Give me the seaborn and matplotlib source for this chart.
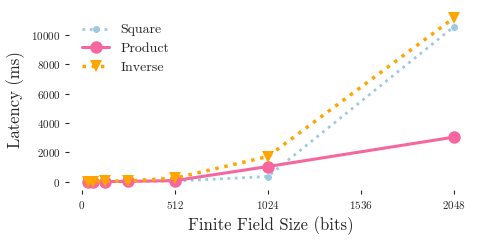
import matplotlib
matplotlib.use('Agg')

import seaborn as sns
import matplotlib.pyplot as plt
import pandas as pd

# field sizes (bits) and latencies (ms)
field_sizes = [32, 64, 128, 256, 512, 1024, 2048]
square_ms = [1, 3, 8, 20, 50, 360, 10550]
product_ms = [2, 5, 12, 30, 80, 1040, 3040]
inverse_ms = [5, 10, 25, 60, 250, 1720, 11150]
x_ticks = [0, 512, 1024, 1536, 2048]
y_ticks = [0, 2000, 4000, 6000, 8000, 10000]

sns.set_theme(style='ticks')
plt.rcParams['font.family'] = ['cmr10', 'DejaVu Serif']
plt.rcParams['mathtext.fontset'] = 'cm'
plt.rcParams['axes.formatter.use_mathtext'] = True

df = pd.DataFrame({'bits': field_sizes, 'Square': square_ms,
                   'Product': product_ms, 'Inverse': inverse_ms})

fig, ax = plt.subplots(figsize=(4.85, 2.42), dpi=100)
fig.subplots_adjust(left=0.143, right=0.973, bottom=0.215, top=0.959)

sns.lineplot(data=df, x='bits', y='Square', ax=ax, color='#9ecae1',
             linestyle=':', linewidth=2, marker='o', markersize=5,
             markeredgewidth=0, label='Square')
sns.lineplot(data=df, x='bits', y='Product', ax=ax, color='#f7679f',
             linestyle='-', linewidth=2.2, marker='o', markersize=9,
             markeredgewidth=0, label='Product')
sns.lineplot(data=df, x='bits', y='Inverse', ax=ax, color='#ffa500',
             linestyle=':', linewidth=2.5, marker='v', markersize=9,
             markeredgewidth=0, label='Inverse')

ax.set_xticks(x_ticks)
ax.set_yticks(y_ticks)
ax.tick_params(axis='both', labelsize=8, length=3, width=0.8)
ax.set_xlabel('Finite Field Size (bits)', fontsize=12)
ax.set_ylabel('Latency (ms)', fontsize=12)
sns.despine(ax=ax, left=True, bottom=True)

ax.legend(loc='upper left', bbox_to_anchor=(0.01, 0.97), frameon=False,
          fontsize=10, handlelength=2.0, handletextpad=0.8,
          borderaxespad=0.2, labelspacing=0.45)

fig.savefig('out.png', dpi=100)
plt.close(fig)
